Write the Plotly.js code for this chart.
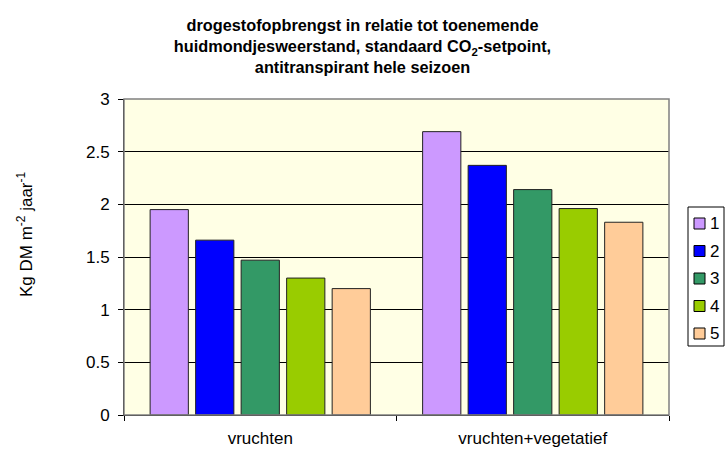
<!DOCTYPE html>
<html>
<head>
<meta charset="utf-8">
<script src="https://cdn.plot.ly/plotly-3.0.1.min.js"></script>
<style>
  body { margin: 0; background: #fff; }
  #chart { width: 725px; height: 464px; }
</style>
</head>
<body>
<div id="chart"></div>
<script>
// categorieen en reeksen
var categories = ['vruchten', 'vruchten+vegetatief'];
var seriesNames = ['1', '2', '3', '4', '5'];
var serie1 = [1.95, 2.69];
var serie2 = [1.66, 2.37];
var serie3 = [1.47, 2.14];
var serie4 = [1.30, 1.96];
var serie5 = [1.20, 1.83];
var colors = ['#CC99FF', '#0000FF', '#339966', '#99CC00', '#FFCC99'];
var yTicks = [0, 0.5, 1, 1.5, 2, 2.5, 3];

var allSeries = [serie1, serie2, serie3, serie4, serie5];

var W = 725, H = 464;
var mar = { l: 124, r: 56, t: 99, b: 49 };
var plotW = W - mar.l - mar.r;
var plotH = H - mar.t - mar.b;
// pixel -> paper helpers (voor de handgemaakte legenda)
function px(x) { return (x - mar.l) / plotW; }
function py(y) { return (H - mar.b - y) / plotH; }

var data = allSeries.map(function (vals, i) {
    return {
        type: 'bar',
        x: categories,
        y: vals,
        name: seriesNames[i],
        showlegend: false,
        marker: {
            color: colors[i],
            line: { color: '#222', width: 1 }
        },
        hoverinfo: 'none'
    };
});

// legenda zoals in Excel: kader, kleine vierkantjes en tekst
var shapes = [{
    type: 'rect', xref: 'paper', yref: 'paper',
    x0: 0, x1: 1, y0: 0, y1: 1,
    line: { color: '#808080', width: 1.5 },
    layer: 'above'
}, {
    type: 'rect', xref: 'paper', yref: 'paper',
    x0: px(688), x1: px(724), y0: py(207), y1: py(346),
    line: { color: '#000', width: 1 },
    fillcolor: '#fff'
}];
var annotations = [{
    // y-as titel als annotatie, zodat hij net als in het origineel iets hoger staat
    xref: 'paper', yref: 'paper',
    x: px(25), y: py(235),
    xanchor: 'center', yanchor: 'middle',
    textangle: -90,
    text: 'Kg DM m<sup>-2</sup> jaar<sup>-1</sup>',
    showarrow: false,
    font: { size: 17 }
}];
seriesNames.forEach(function (nm, i) {
    var yc = 223.5 + i * 27.5;
    shapes.push({
        type: 'rect', xref: 'paper', yref: 'paper',
        x0: px(694), x1: px(705), y0: py(yc - 5.5), y1: py(yc + 5.5),
        line: { color: '#000', width: 1 },
        fillcolor: colors[i]
    });
    annotations.push({
        xref: 'paper', yref: 'paper',
        x: px(708), y: py(yc),
        xanchor: 'left', yanchor: 'middle',
        text: nm, showarrow: false,
        font: { size: 17 }
    });
});

var layout = {
    width: W,
    height: H,
    font: { family: 'Liberation Sans, Arial, sans-serif', size: 17, color: '#000' },
    title: {
        text: '<b>drogestofopbrengst in relatie tot toenemende<br>huidmondjesweerstand, standaard CO<sub>2</sub>-setpoint,<br>antitranspirant hele seizoen</b>',
        font: { size: 16.3 },
        x: 0.5,
        xref: 'container',
        y: 1 - 31 / H,
        yanchor: 'top',
        yref: 'container'
    },
    margin: mar,
    paper_bgcolor: '#fff',
    plot_bgcolor: '#FFFFE5',
    barmode: 'group',
    bargap: 0.165,
    bargroupgap: 0.16,
    showlegend: false,
    xaxis: {
        type: 'category',
        showline: true,
        linecolor: '#000',
        linewidth: 1,
        ticks: 'outside',
        tickson: 'boundaries',
        ticklen: 5,
        tickcolor: '#000',
        ticklabelstandoff: 8,
        showgrid: false,
        fixedrange: true
    },
    yaxis: {
        range: [0, 3],
        tickvals: yTicks,
        ticktext: yTicks.map(String),
        showline: true,
        linecolor: '#000',
        linewidth: 1,
        ticks: 'outside',
        ticklen: 5,
        tickcolor: '#000',
        ticklabelstandoff: 5,
        showgrid: true,
        gridcolor: '#000',
        gridwidth: 1,
        zeroline: false,
        fixedrange: true,
        automargin: false
    },
    shapes: shapes,
    annotations: annotations
};

var config = { displayModeBar: false, staticPlot: true };

Plotly.newPlot('chart', data, layout, config);
</script>
</body>
</html>
